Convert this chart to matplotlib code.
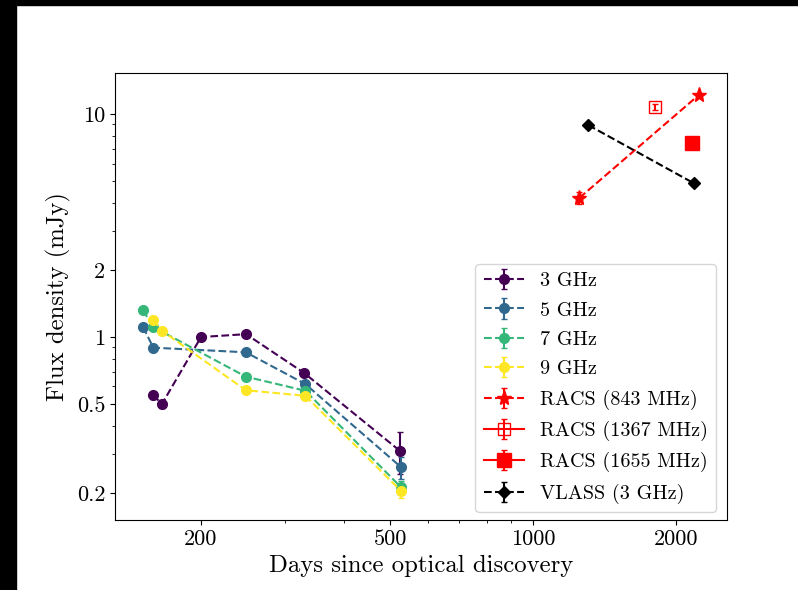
import matplotlib
matplotlib.use("Agg")
import matplotlib.pyplot as plt
from matplotlib.patches import Rectangle
from matplotlib.ticker import FixedLocator, FixedFormatter, NullFormatter

plt.rcParams["font.family"] = "cmr10"
plt.rcParams["mathtext.fontset"] = "cm"
plt.rcParams["axes.formatter.use_mathtext"] = True

# ATCA bands (days, mJy, err)
days_3 = [158.5, 165.5, 200, 248.8, 329.6, 524.8]
flux_3 = [0.549, 0.501, 1.00, 1.03, 0.69, 0.308]
err_3 = [0.02, 0.02, 0.02, 0.02, 0.02, 0.065]

days_5 = [151.0, 158.7, 248.5, 331.6, 527.0]
flux_5 = [1.109, 0.896, 0.854, 0.615, 0.261]
err_5 = [0.02, 0.02, 0.02, 0.02, 0.03]

days_7 = [151.0, 158.7, 248.5, 331.6, 527.0]
flux_7 = [1.317, 1.109, 0.664, 0.574, 0.212]
err_7 = [0.02, 0.02, 0.02, 0.015, 0.015]

days_9 = [158.7, 165.5, 248.5, 331.6, 527.0]
flux_9 = [1.196, 1.067, 0.577, 0.545, 0.204]
err_9 = [0.02, 0.02, 0.015, 0.015, 0.015]

# RACS and VLASS
days_racs843 = [1252, 2234]
flux_racs843 = [4.21, 12.2]
err_racs843 = [0.25, 0.3]

days_racs1367 = [1806]
flux_racs1367 = [10.78]
err_racs1367 = [0.3]

days_racs1655 = [2165]
flux_racs1655 = [7.39]
err_racs1655 = [0.2]

days_vlass = [1307, 2183]
flux_vlass = [8.93, 4.89]
err_vlass = [0.15, 0.15]

fig = plt.figure(figsize=(7.98, 5.9), dpi=100)
ax = fig.add_axes([115 / 798, 70 / 590, 612 / 798, 447 / 590])

ms = 7
ax.errorbar(days_3, flux_3, yerr=err_3, fmt="o--", color="#440154", ms=ms, capsize=2, label="3 GHz")
ax.errorbar(days_5, flux_5, yerr=err_5, fmt="o--", color="#31688e", ms=ms, capsize=2, label="5 GHz")
ax.errorbar(days_7, flux_7, yerr=err_7, fmt="o--", color="#35b779", ms=ms, capsize=2, label="7 GHz")
ax.errorbar(days_9, flux_9, yerr=err_9, fmt="o--", color="#fde725", ms=ms, capsize=2, label="9 GHz")
ax.errorbar(days_racs843, flux_racs843, yerr=err_racs843, fmt="*--", color="red", ms=11,
            capsize=2, label="RACS (843 MHz)")
ax.errorbar(days_racs1367, flux_racs1367, yerr=err_racs1367, fmt="s-", color="red", mfc="none",
            ms=8, capsize=2, label="RACS (1367 MHz)")
ax.errorbar(days_racs1655, flux_racs1655, yerr=err_racs1655, fmt="s-", color="red", ms=9.5,
            capsize=2, label="RACS (1655 MHz)")
ax.errorbar(days_vlass, flux_vlass, yerr=err_vlass, fmt="D--", color="black", ms=6,
            capsize=2, label="VLASS (3 GHz)")

ax.set_xscale("log")
ax.set_yscale("log")
ax.set_xlim(131.8, 2560)
ax.set_ylim(0.151, 15.3)

ax.xaxis.set_major_locator(FixedLocator([200, 500, 1000, 2000]))
ax.xaxis.set_major_formatter(FixedFormatter(["200", "500", "1000", "2000"]))
ax.xaxis.set_minor_formatter(NullFormatter())
ax.yaxis.set_major_locator(FixedLocator([0.2, 0.5, 1, 2, 10]))
ax.yaxis.set_major_formatter(FixedFormatter(["0.2", "0.5", "1", "2", "10"]))
ax.yaxis.set_minor_formatter(NullFormatter())
ax.tick_params(labelsize=16)

ax.set_xlabel("Days since optical discovery", fontsize=17.8)
ax.set_ylabel("Flux density (mJy)", fontsize=17.8)

ax.legend(loc="lower right", fontsize=14.5, bbox_to_anchor=(0.982, 0.018), borderaxespad=0,
          labelspacing=0.56)

# black strips at the top and left edges of the original image
fig.patches.append(Rectangle((0, 0), 16 / 798, 1, transform=fig.transFigure, color="black", zorder=10))
fig.patches.append(Rectangle((0, 1 - 5 / 590), 1, 5 / 590, transform=fig.transFigure, color="black", zorder=10))

fig.savefig("out.png", dpi=100)
